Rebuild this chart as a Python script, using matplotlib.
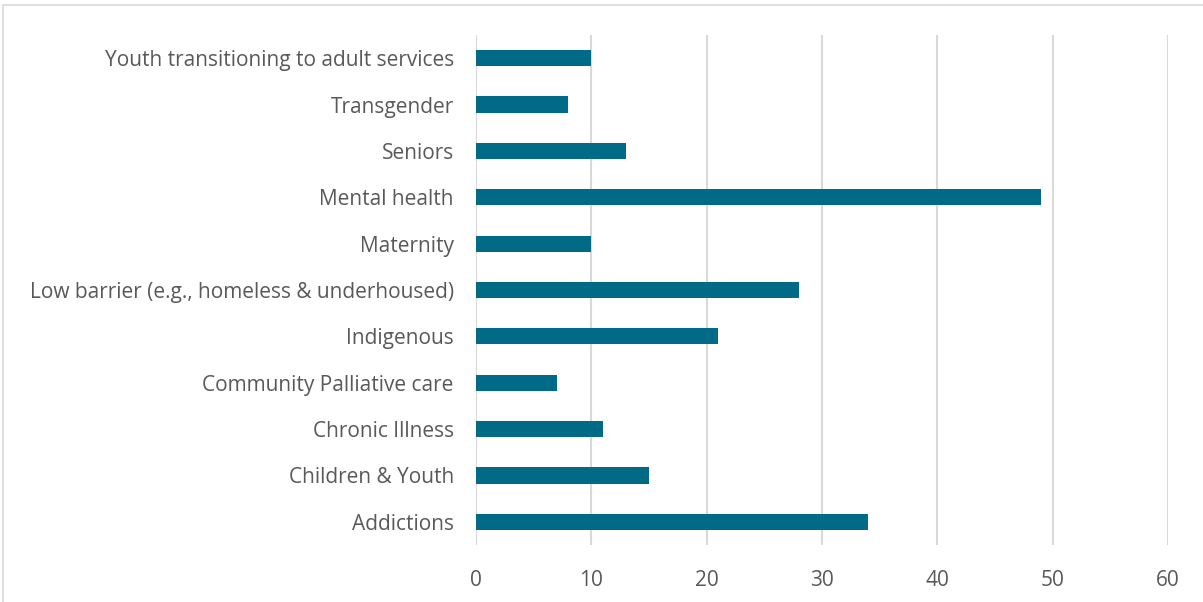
import matplotlib.pyplot as plt
from matplotlib.patches import Rectangle

# Populations served, bottom to top as drawn
categories = [
    'Addictions',
    'Children & Youth',
    'Chronic Illness',
    'Community Palliative care',
    'Indigenous',
    'Low barrier (e.g., homeless & underhoused)',
    'Maternity',
    'Mental health',
    'Seniors',
    'Transgender',
    'Youth transitioning to adult services',
]
counts = [34, 15, 11, 7, 21, 28, 10, 49, 13, 8, 10]
x_ticks = [0, 10, 20, 30, 40, 50, 60]

bar_color = '#006A87'
grid_color = '#D9D9D9'
text_color = '#595959'

plt.rcParams['font.family'] = ['Open Sans', 'DejaVu Sans']

fig = plt.figure(figsize=(12.03, 6.02), dpi=100)
ax = fig.add_axes([0.3957, 0.0947, 0.5752, 0.8472])

ax.barh(range(len(categories)), counts, height=0.35, color=bar_color, zorder=3)

ax.set_xlim(0, 60)
ax.set_ylim(-0.5, len(categories) - 0.5)
ax.set_xticks(x_ticks)
ax.set_xticklabels([str(t) for t in x_ticks])
ax.set_yticks(range(len(categories)))
ax.set_yticklabels(categories)
ax.tick_params(axis='both', length=0, labelsize=15, colors=text_color)
ax.tick_params(axis='y', pad=16)
ax.tick_params(axis='x', pad=18)
ax.xaxis.grid(True, color=grid_color, linewidth=1.5, zorder=0)
for s in ax.spines.values():
    s.set_visible(False)

# chart area border
fig.add_artist(Rectangle((3 / 1203, -0.1), 1.2, 1.1 - 5 / 602,
                         transform=fig.transFigure, fill=False,
                         edgecolor=grid_color, linewidth=1.2))

fig.savefig('out.png', dpi=100)
